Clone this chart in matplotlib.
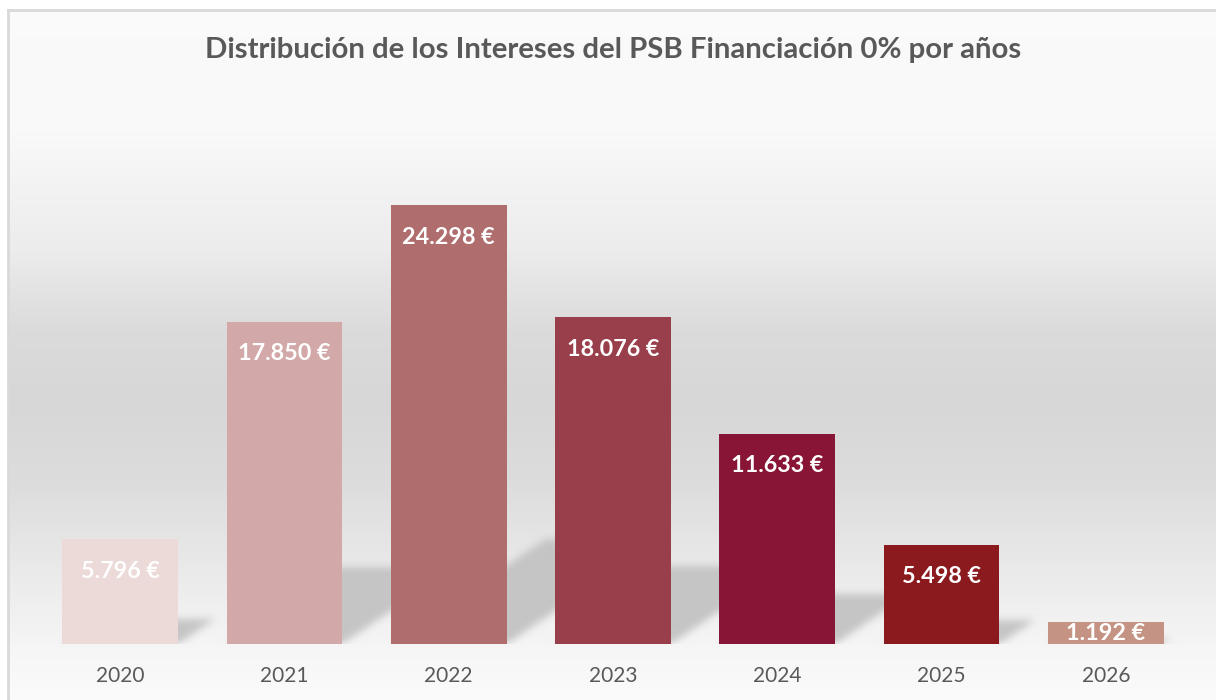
import numpy as np
import matplotlib
matplotlib.use("Agg")
import matplotlib.pyplot as plt

years = ["2020", "2021", "2022", "2023", "2024", "2025", "2026"]
intereses = [5796, 17850, 24298, 18076, 11633, 5498, 1192]
etiquetas = ["5.796 €", "17.850 €", "24.298 €", "18.076 €", "11.633 €", "5.498 €", "1.192 €"]
colores = ["#ecdad8", "#d2a9a8", "#b06d6e", "#993f4b", "#881535", "#8a1a1e", "#c49383"]

W, H = 1216, 700
plt.rcParams['font.family'] = ['Lato', 'DejaVu Sans']

fig = plt.figure(figsize=(W / 100, H / 100), dpi=100)
fig.patch.set_facecolor("white")

# fondo degradado del area del grafico
bg = fig.add_axes([8 / W, 0, 1 - 8 / W, 1 - 10 / H])
stops_y = [0, 25, 120, 240, 320, 390, 470, 560, 640, 690]
stops_c = [250, 250, 249, 236, 219, 215, 220, 234, 246, 251]
rows = np.interp(np.arange(H - 10), stops_y, stops_c) / 255.0
grad = np.repeat(rows[:, None], 4, axis=1)
bg.imshow(np.dstack([grad, grad, grad]), aspect="auto", extent=(0, 1, 0, 1), origin="upper")
bg.set_xlim(0, 1)
bg.set_ylim(0, 1)
bg.set_xticks([])
bg.set_yticks([])
for s in ["top", "right", "bottom"]:
    bg.spines[s].set_visible(False)
bg.spines["left"].set_color("#d9d9d9")
bg.spines["left"].set_linewidth(2)
fig.add_artist(plt.Line2D([8 / W, 1], [1 - 10 / H, 1 - 10 / H], transform=fig.transFigure,
                          color="#d9d9d9", lw=2))

ax_l, ax_r, ax_b, ax_t = 38, 1188, 644, 102
ax = fig.add_axes([ax_l / W, 1 - ax_b / H, (ax_r - ax_l) / W, (ax_b - ax_t) / H])
ax.patch.set_alpha(0)
ymax = 30000
ax.set_xlim(-0.5, len(years) - 0.5)
ax.set_ylim(0, ymax)

x = np.arange(len(years))
ancho = 0.705
ax.bar(x, intereses, width=ancho, color=colores, zorder=3)

# sombras en perspectiva detras de las barras
nx, ny = ax_r - ax_l, ax_b - ax_t
px_x = nx / len(years)
px_y = ny / ymax
cols = np.arange(nx) + 0.5
filas = np.arange(ny) + 0.5
CX, RY = np.meshgrid(cols, filas)
mask = np.zeros((ny, nx))
for i, v in enumerate(intereses):
    izq = (x[i] - ancho / 2 + 0.5) * px_x
    der = (x[i] + ancho / 2 + 0.5) * px_x
    alto = 0.24 * v * px_y
    desp = RY / 0.68
    m = (RY <= alto) & (CX >= izq + desp) & (CX <= der + desp)
    mask[m] = 1.0


def box_blur(a, r):
    k = np.ones(2 * r + 1) / (2 * r + 1)
    a = np.apply_along_axis(lambda f: np.convolve(f, k, mode="same"), 0, a)
    a = np.apply_along_axis(lambda f: np.convolve(f, k, mode="same"), 1, a)
    return a


for _ in range(2):
    mask = box_blur(mask, 4)
sombra = np.zeros((ny, nx, 4))
sombra[..., :3] = 0.765
sombra[..., 3] = mask * 0.95
ax.imshow(sombra, origin="lower", aspect="auto", zorder=1,
          extent=(-0.5, len(years) - 0.5, 0, ymax))
ax.set_xlim(-0.5, len(years) - 0.5)
ax.set_ylim(0, ymax)

for i, v in enumerate(intereses):
    off = -32 if v > 3000 else -11
    ax.annotate(etiquetas[i], (x[i], v), xytext=(0, off * 0.72), textcoords="offset points",
                ha="center", va="center", color="white", fontsize=16.8, fontweight="bold",
                zorder=4)

ax.set_xticks(x)
ax.set_xticklabels(years, fontsize=15, color="#595959")
ax.tick_params(axis="x", length=0, pad=16)
ax.set_yticks([])
for s in ax.spines.values():
    s.set_visible(False)

fig.text(613 / W, 1 - 50 / H, "Distribución de los Intereses del PSB Financiación 0% por años",
         ha="center", va="center", fontsize=21.2, fontweight="bold", color="#595959")

fig.savefig("out.png", dpi=100)
